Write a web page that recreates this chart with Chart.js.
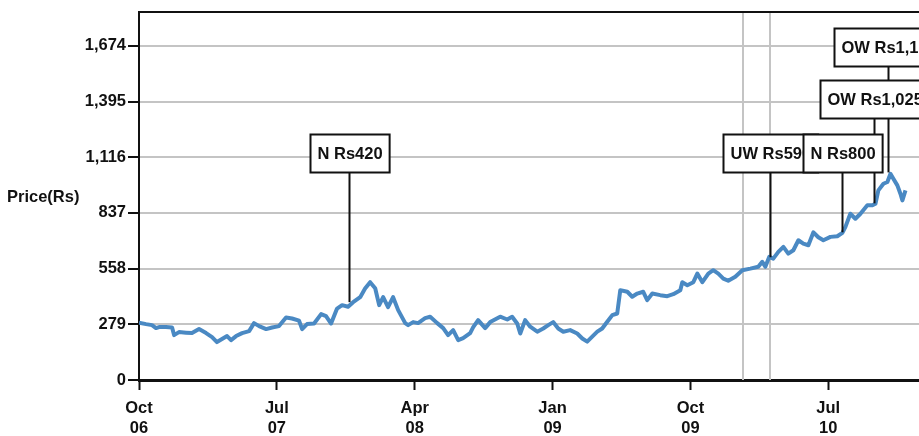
<!DOCTYPE html>
<html>
<head>
<meta charset="utf-8">
<script src="https://cdn.jsdelivr.net/npm/chart.js@4.4.0/dist/chart.umd.min.js"></script>
<style>
  html, body { margin: 0; padding: 0; background: #fff; overflow: hidden; }
  #wrap { width: 960px; height: 436px; }
</style>
</head>
<body>
<div id="wrap"><canvas id="myChart" width="960" height="436"></canvas></div>
<script>
// months since Oct 2006
const months = [0, 0.46, 0.85, 1.11, 1.31, 1.76, 2.16, 2.29, 2.61, 3.07, 3.46, 3.92, 4.38, 4.77, 5.09, 5.42, 5.75, 6.01, 6.34, 6.73,
  7.19, 7.51, 7.84, 8.30, 8.69, 9.14, 9.60, 9.99, 10.45, 10.65, 10.97, 11.43, 11.89, 12.21, 12.54, 12.93, 13.26, 13.65, 13.98, 14.44,
  14.76, 15.09, 15.42, 15.68, 15.94, 16.26, 16.59, 16.92, 17.38, 17.57, 17.90, 18.22, 18.68, 19.01, 19.47, 19.86, 20.18, 20.51, 20.84, 21.16,
  21.62, 21.82, 22.14, 22.60, 22.93, 23.58, 24.04, 24.36, 24.69, 24.89, 25.21, 25.54, 26.00, 26.39, 26.72, 27.04, 27.37, 27.70, 28.15, 28.61,
  28.94, 29.26, 29.59, 29.92, 30.24, 30.57, 30.90, 31.22, 31.42, 31.88, 32.20, 32.53, 32.92, 33.18, 33.51, 34.03, 34.49, 34.88, 35.34, 35.47,
  35.80, 36.19, 36.45, 36.78, 37.17, 37.49, 37.82, 38.15, 38.47, 38.93, 39.39, 39.91, 40.43, 40.69, 40.89, 41.15, 41.41, 41.74, 42.07, 42.39,
  42.72, 43.05, 43.37, 43.70, 44.03, 44.35, 44.68, 45.14, 45.59, 45.92, 46.12, 46.44, 46.77, 47.10, 47.55, 47.88, 48.08, 48.27, 48.60, 48.86,
  49.06, 49.25, 49.51, 49.71, 49.84, 50.04];
const prices = [287, 280, 275, 260, 265, 265, 263, 225, 240, 237, 235, 255, 235, 215, 190, 205, 220, 200, 220, 235,
  245, 285, 270, 255, 263, 270, 313, 308, 297, 255, 280, 283, 330, 320, 283, 358, 375, 367, 390, 415,
  458, 490, 460, 375, 415, 365, 415, 350, 285, 275, 290, 285, 310, 317, 285, 260, 225, 250, 200, 210,
  235, 265, 300, 260, 290, 317, 303, 317, 283, 233, 300, 267, 242, 258, 275, 290, 258, 242, 250, 233,
  208, 192, 217, 242, 258, 292, 325, 333, 450, 442, 417, 433, 442, 400, 433, 425, 420, 430, 450, 490,
  475, 490, 533, 490, 533, 550, 533, 508, 497, 517, 550, 558, 567, 592, 567, 617, 608, 642, 667, 633,
  650, 700, 683, 675, 740, 715, 700, 717, 720, 737, 767, 833, 808, 833, 875, 875, 883, 950, 983, 992,
  1033, 1008, 975, 933, 900, 950];

const yTicks = [0, 279, 558, 837, 1116, 1395, 1674];
const xTicks = [0, 9, 18, 27, 36, 45];
const xTickLabels = [["Oct", "06"], ["Jul", "07"], ["Apr", "08"], ["Jan", "09"], ["Oct", "09"], ["Jul", "10"]];

// rating calls
const callLabels = ["N Rs420", "UW Rs590", "N Rs800", "OW Rs1,025", "OW Rs1,150"];
const callMonths = [13.72, 41.22, 45.92, 48.01, 48.93];
const callPrices = [390, 615, 740, 885, 1040];
const callRows = [0, 0, 0, 1, 2];
const eventMonths = [39.45, 41.22];

const FONT = '"Liberation Sans", Arial, Helvetica, sans-serif';
const INK = "#111";

const callouts = {
  id: "callouts",
  beforeDatasetsDraw(chart) {
    const { ctx, chartArea, scales } = chart;
    ctx.save();
    ctx.strokeStyle = "#c4c4c4";
    ctx.lineWidth = 2;
    eventMonths.forEach(function (m) {
      const x = Math.round(scales.x.getPixelForValue(m));
      ctx.beginPath();
      ctx.moveTo(x, chartArea.top);
      ctx.lineTo(x, chartArea.bottom);
      ctx.stroke();
    });
    ctx.restore();
  },
  afterDatasetsDraw(chart, args, opts) {
    const { ctx, scales } = chart;
    const rowTop = opts.rowTop;
    const h = opts.boxHeight;
    ctx.save();
    ctx.font = "bold 16.5px " + FONT;
    ctx.strokeStyle = INK;
    ctx.lineWidth = 2;
    // connector lines first, boxes cover them
    callLabels.forEach(function (lab, i) {
      const x = Math.round(scales.x.getPixelForValue(callMonths[i])) + 0.5;
      const y = scales.y.getPixelForValue(callPrices[i]);
      ctx.beginPath();
      ctx.moveTo(x, rowTop[callRows[i]] + h);
      ctx.lineTo(x, y);
      ctx.stroke();
    });
    callLabels.forEach(function (lab, i) {
      const cx = scales.x.getPixelForValue(callMonths[i]);
      const w = ctx.measureText(lab).width + 14;
      const top = rowTop[callRows[i]];
      const left = Math.round(cx - w / 2) + 0.5;
      ctx.fillStyle = "#fff";
      ctx.fillRect(left, top, w, h);
      ctx.strokeRect(left, top + 0.5, w, h);
      ctx.fillStyle = INK;
      ctx.textAlign = "center";
      ctx.textBaseline = "middle";
      ctx.fillText(lab, left + w / 2, top + h / 2 + 1);
    });
    ctx.restore();
  },
  afterDraw(chart) {
    const { ctx, chartArea } = chart;
    ctx.save();
    ctx.strokeStyle = INK;
    ctx.lineWidth = 2;
    ctx.beginPath();
    ctx.moveTo(chartArea.left - 1, chartArea.top);
    ctx.lineTo(chartArea.right, chartArea.top);
    ctx.stroke();
    ctx.fillStyle = INK;
    ctx.font = "bold 16.5px " + FONT;
    ctx.textAlign = "left";
    ctx.textBaseline = "middle";
    ctx.fillText("Price(Rs)", 7, (chartArea.top + chartArea.bottom) / 2 + 2);
    ctx.restore();
  }
};

new Chart("myChart", {
  type: "line",
  data: {
    datasets: [{
      data: months.map(function (m, i) { return { x: m, y: prices[i] }; }),
      borderColor: "#4a89c3",
      borderWidth: 4,
      pointRadius: 0,
      tension: 0,
      borderJoinStyle: "round"
    }]
  },
  options: {
    responsive: false,
    animation: false,
    layout: { padding: { top: 11, left: 0, right: 0, bottom: 0 } },
    plugins: {
      legend: { display: false },
      tooltip: { enabled: false },
      callouts: { rowTop: [134, 80, 28], boxHeight: 38 }
    },
    scales: {
      x: {
        type: "linear",
        min: 0,
        max: 53.6,
        afterBuildTicks: function (scale) {
          scale.ticks = xTicks.map(function (v) { return { value: v }; });
        },
        afterFit: function (scale) { scale.height = 56; },
        ticks: {
          autoSkip: false,
          maxRotation: 0,
          padding: 8,
          color: INK,
          font: { family: FONT, size: 16.5, weight: "bold", lineHeight: 1.25 },
          callback: function (v) { return xTickLabels[xTicks.indexOf(v)]; }
        },
        grid: { drawOnChartArea: false, tickLength: 10, tickColor: INK, tickWidth: 2 },
        border: { color: INK, width: 3 }
      },
      y: {
        min: 0,
        max: 1844,
        afterBuildTicks: function (scale) {
          scale.ticks = yTicks.map(function (v) { return { value: v }; });
        },
        afterFit: function (scale) { scale.width = 139; },
        ticks: {
          padding: 2,
          color: INK,
          font: { family: FONT, size: 16.5, weight: "bold" },
          callback: function (v) { return v.toLocaleString("en-US"); }
        },
        grid: { color: "#c4c4c4", lineWidth: 2, tickLength: 11, tickColor: INK, tickWidth: 2 },
        border: { color: INK, width: 2 }
      }
    }
  },
  plugins: [callouts]
});
</script>
</body>
</html>
